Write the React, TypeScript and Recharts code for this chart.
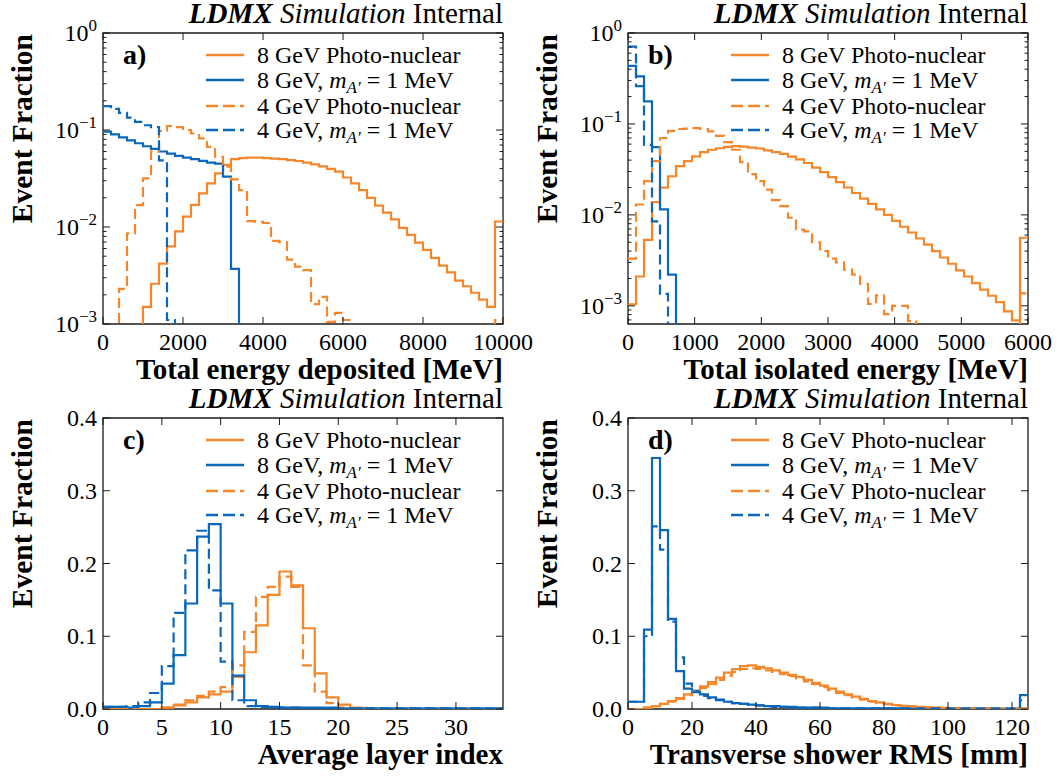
import React from 'react';
import { LineChart, Line, XAxis, YAxis, ReferenceArea, Legend } from 'recharts';

const FONT = '"Liberation Serif", "Times New Roman", Times, serif';
const ORANGE = '#f5862a';
const BLUE = '#0a67bb';
const FRAME = '#1a1a1a';

// ---------- Panel a: Total energy deposited [MeV], 50 bins over 0-10000 ----------
const aPN8 = [0, 0, 0, 0, 0, 0.0015, 0.0026, 0.0042, 0.0063, 0.009, 0.0128, 0.0169, 0.0222, 0.0282, 0.0357, 0.0436, 0.05, 0.0513, 0.0519, 0.0519, 0.0513, 0.0507, 0.0501, 0.049, 0.0479, 0.0462, 0.0442, 0.0422, 0.0398, 0.0372, 0.0324, 0.0282, 0.024, 0.02, 0.0166, 0.0141, 0.012, 0.0098, 0.0083, 0.0069, 0.0058, 0.0048, 0.004, 0.0034, 0.0028, 0.00245, 0.0021, 0.00178, 0.0015, 0.0114];
const aAp8 = [0.096, 0.09, 0.084, 0.078, 0.073, 0.068, 0.064, 0.06, 0.057, 0.054, 0.052, 0.05, 0.048, 0.046, 0.045, 0.033, 0.0037, 0, 0, 0, 0, 0, 0, 0, 0, 0, 0, 0, 0, 0, 0, 0, 0, 0, 0, 0, 0, 0, 0, 0, 0, 0, 0, 0, 0, 0, 0, 0, 0, 0];
const aPN4 = [0, 0, 0.0023, 0.0086, 0.0168, 0.0317, 0.06, 0.098, 0.11, 0.107, 0.1, 0.092, 0.082, 0.067, 0.053, 0.042, 0.031, 0.024, 0.0115, 0.0113, 0.011, 0.0072, 0.007, 0.0046, 0.0039, 0.0036, 0.0016, 0.0019, 0.00105, 0.0013, 0.0011, 0, 0, 0, 0, 0, 0, 0, 0, 0, 0, 0, 0, 0, 0, 0, 0, 0, 0, 0.0011];
const aAp4 = [0.176, 0.165, 0.15, 0.134, 0.121, 0.112, 0.107, 0.0486, 0.0011, 0, 0, 0, 0, 0, 0, 0, 0, 0, 0, 0, 0, 0, 0, 0, 0, 0, 0, 0, 0, 0, 0, 0, 0, 0, 0, 0, 0, 0, 0, 0, 0, 0, 0, 0, 0, 0, 0, 0, 0, 0];
const aXTicks = [0, 2000, 4000, 6000, 8000, 10000];

// ---------- Panel b: Total isolated energy [MeV], 50 bins over 0-6000 ----------
const bPN8 = [0.00104, 0.0021, 0.0053, 0.0138, 0.0199, 0.0266, 0.0343, 0.039, 0.044, 0.049, 0.052, 0.054, 0.056, 0.057, 0.0562, 0.055, 0.0537, 0.0513, 0.049, 0.0468, 0.0437, 0.0407, 0.0372, 0.0331, 0.0295, 0.026, 0.0229, 0.02, 0.0174, 0.0151, 0.0132, 0.0115, 0.01, 0.0086, 0.0074, 0.0064, 0.0055, 0.0047, 0.004, 0.0034, 0.0029, 0.00245, 0.0021, 0.00178, 0.00151, 0.00129, 0.0011, 0.00087, 0.00069, 0.0056];
const bAp8 = [0.435, 0.333, 0.177, 0.0555, 0.0115, 0.0022, 0, 0, 0, 0, 0, 0, 0, 0, 0, 0, 0, 0, 0, 0, 0, 0, 0, 0, 0, 0, 0, 0, 0, 0, 0, 0, 0, 0, 0, 0, 0, 0, 0, 0, 0, 0, 0, 0, 0, 0, 0, 0, 0, 0];
const bPN4 = [0.0033, 0.013, 0.0235, 0.039, 0.07, 0.084, 0.088, 0.089, 0.09, 0.088, 0.083, 0.074, 0.063, 0.052, 0.038, 0.028, 0.0235, 0.019, 0.0145, 0.0125, 0.0093, 0.0069, 0.0066, 0.005, 0.004, 0.0033, 0.003, 0.0025, 0.0022, 0.00174, 0.00105, 0.0013, 0.00081, 0.001, 0.001, 0.00068, 0, 0, 0, 0, 0, 0, 0, 0, 0, 0, 0, 0, 0, 0.00137];
const bAp4 = [0.71, 0.26, 0.059, 0.0085, 0.00135, 0, 0, 0, 0, 0, 0, 0, 0, 0, 0, 0, 0, 0, 0, 0, 0, 0, 0, 0, 0, 0, 0, 0, 0, 0, 0, 0, 0, 0, 0, 0, 0, 0, 0, 0, 0, 0, 0, 0, 0, 0, 0, 0, 0, 0];
const bXTicks = [0, 1000, 2000, 3000, 4000, 5000, 6000];

// ---------- Panel c: Average layer index, 34 bins over 0-34 ----------
const cPN8 = [0, 0, 0, 0, 0, 0.002, 0.005, 0.009, 0.016, 0.02, 0.024, 0.044, 0.078, 0.115, 0.157, 0.189, 0.17, 0.111, 0.049, 0.016, 0.006, 0.002, 0.001, 0, 0, 0, 0, 0, 0, 0, 0, 0, 0, 0];
const cAp8 = [0.003, 0.003, 0.002, 0.004, 0.009, 0.035, 0.074, 0.145, 0.237, 0.254, 0.145, 0.046, 0.012, 0.004, 0.003, 0.002, 0.002, 0.002, 0.002, 0.002, 0.001, 0.001, 0.001, 0.001, 0.001, 0.001, 0.001, 0.001, 0.001, 0.001, 0.001, 0.001, 0.001, 0.001];
const cPN4 = [0, 0, 0, 0, 0, 0.002, 0.006, 0.012, 0.018, 0.024, 0.03, 0.06, 0.106, 0.154, 0.168, 0.182, 0.168, 0.06, 0.024, 0.008, 0.002, 0.001, 0, 0, 0, 0, 0, 0, 0, 0, 0, 0, 0, 0];
const cAp4 = [0.003, 0.003, 0.004, 0.009, 0.022, 0.059, 0.132, 0.218, 0.245, 0.163, 0.065, 0.012, 0.004, 0.003, 0.002, 0.002, 0.002, 0.001, 0.001, 0.001, 0.001, 0.001, 0.001, 0.001, 0.001, 0.001, 0.001, 0.001, 0.001, 0.001, 0.001, 0.001, 0.001, 0.001];
const cXTicks = [0, 5, 10, 15, 20, 25, 30];

// ---------- Panel d: Transverse shower RMS [mm], 50 bins over 0-125 ----------
const dPN8 = [0, 0, 0.002, 0.004, 0.007, 0.011, 0.015, 0.02, 0.025, 0.031, 0.037, 0.043, 0.05, 0.055, 0.059, 0.06, 0.058, 0.056, 0.053, 0.05, 0.047, 0.044, 0.04, 0.036, 0.032, 0.028, 0.024, 0.02, 0.017, 0.014, 0.011, 0.009, 0.007, 0.0055, 0.0045, 0.0035, 0.003, 0.0025, 0.002, 0.0015, 0.0012, 0.001, 0.0008, 0.0006, 0.0005, 0.0004, 0.0003, 0.0003, 0.0002, 0.001];
const dAp8 = [0.01, 0.01, 0.109, 0.345, 0.246, 0.124, 0.052, 0.028, 0.025, 0.02, 0.016, 0.013, 0.01, 0.008, 0.007, 0.006, 0.005, 0.004, 0.004, 0.003, 0.003, 0.002, 0.002, 0.002, 0.002, 0.001, 0.001, 0.001, 0.001, 0.001, 0.001, 0.001, 0.001, 0.001, 0.001, 0.001, 0.001, 0.001, 0.001, 0.001, 0.0005, 0.0005, 0.0005, 0.0005, 0.0005, 0.0005, 0.0005, 0.0005, 0.0005, 0.019];
const dPN4 = [0, 0, 0.002, 0.004, 0.007, 0.01, 0.014, 0.019, 0.024, 0.029, 0.034, 0.04, 0.046, 0.051, 0.055, 0.056, 0.055, 0.053, 0.051, 0.048, 0.045, 0.042, 0.038, 0.034, 0.03, 0.026, 0.022, 0.019, 0.016, 0.013, 0.01, 0.008, 0.0065, 0.005, 0.004, 0.0033, 0.0027, 0.0022, 0.0018, 0.0014, 0.0011, 0.0009, 0.0007, 0.0005, 0.0004, 0.0003, 0.0003, 0.0003, 0.0003, 0.001];
const dAp4 = [0.01, 0.01, 0.1, 0.251, 0.219, 0.12, 0.071, 0.035, 0.023, 0.018, 0.015, 0.012, 0.01, 0.008, 0.007, 0.006, 0.005, 0.004, 0.003, 0.003, 0.002, 0.002, 0.002, 0.002, 0.001, 0.001, 0.001, 0.001, 0.001, 0.001, 0.001, 0.001, 0.001, 0.001, 0.001, 0.0005, 0.0005, 0.0005, 0.0005, 0.0005, 0.0005, 0.0005, 0.0005, 0.0005, 0.0005, 0.0005, 0.0005, 0.0005, 0.0005, 0.012];
const dXTicks = [0, 20, 40, 60, 80, 100, 120];

const linYTicks = [0, 0.1, 0.2, 0.3, 0.4];

const SERIES = [
  { key: 'pn8', pre: '8 GeV Photo-nuclear', math: false, color: ORANGE, dash: undefined as string | undefined },
  { key: 'ap8', pre: '8 GeV, ', math: true, color: BLUE, dash: undefined as string | undefined },
  { key: 'pn4', pre: '4 GeV Photo-nuclear', math: false, color: ORANGE, dash: '10 5' },
  { key: 'ap4', pre: '4 GeV, ', math: true, color: BLUE, dash: '10 5' },
];

// ---------- layout ----------
const CW = 560;
const CH = 388;
const PL = 103;
const PR = 503;
const PT = 33;
const PB = 324;
const LEG_ROWS = [22, 47, 73, 97];
const TICK_FS = 24;

const logTicks = (minExp: number) => {
  const t: number[] = [];
  for (let e = minExp; e < 0; e++) {
    for (let m = 1; m <= 9; m++) t.push(Number((m * Math.pow(10, e)).toPrecision(6)));
  }
  t.push(1);
  return t;
};

const PANELS = [
  { id: 'a', letter: 'a)', left: 0, top: 0, xDomain: [0, 10000], xTicks: aXTicks, log: true, yDomain: [0.001, 1], yTicks: logTicks(-3), series: [aPN8, aAp8, aPN4, aAp4], xTitle: 'Total energy deposited [MeV]' },
  { id: 'b', letter: 'b)', left: 525, top: 0, xDomain: [0, 6000], xTicks: bXTicks, log: true, yDomain: [Math.pow(10, -3.2), 1], yTicks: logTicks(-4).filter((v) => v >= Math.pow(10, -3.2)), series: [bPN8, bAp8, bPN4, bAp4], xTitle: 'Total isolated energy [MeV]' },
  { id: 'c', letter: 'c)', left: 0, top: 385, xDomain: [0, 34], xTicks: cXTicks, log: false, yDomain: [0, 0.4], yTicks: linYTicks, series: [cPN8, cAp8, cPN4, cAp4], xTitle: 'Average layer index' },
  { id: 'd', letter: 'd)', left: 525, top: 385, xDomain: [0, 125], xTicks: dXTicks, log: false, yDomain: [0, 0.4], yTicks: linYTicks, series: [dPN8, dAp8, dPN4, dAp4], xTitle: 'Transverse shower RMS [mm]' },
];

const FLOOR = 1e-7;

const buildRows = (lo: number, hi: number, series: number[][], log: boolean) => {
  const n = series[0].length;
  const w = (hi - lo) / n;
  const rows: any[] = [];
  for (let i = 0; i <= n; i++) {
    const row: any = { x: lo + i * w };
    SERIES.forEach((s, k) => {
      const v = series[k][Math.min(i, n - 1)];
      row[s.key] = log && v <= 0 ? FLOOR : v;
    });
    rows.push(row);
  }
  return rows;
};

const makeYTick = (log: boolean) => (props: any) => {
  const { y, payload } = props;
  const v = payload.value as number;
  let major = true;
  let exp = 0;
  if (log) {
    const l = Math.log10(v);
    exp = Math.round(l);
    major = Math.abs(l - exp) < 1e-6;
  }
  const len = major ? 7 : 3.5;
  const expStr = exp < 0 ? '\u2212' + Math.abs(exp) : String(exp);
  return (
    <g>
      <line x1={PL} x2={PL + len} y1={y} y2={y} stroke={FRAME} strokeWidth={1} />
      <line x1={PR - len} x2={PR} y1={y} y2={y} stroke={FRAME} strokeWidth={1} />
      {major &&
        (log ? (
          <text x={PL - 6} y={y + 8} textAnchor="end" fontFamily={FONT} fontSize={TICK_FS} fill="#000">
            10
            <tspan dy={-10} fontSize={17}>
              {expStr}
            </tspan>
          </text>
        ) : (
          <text x={PL - 6} y={y + 8} textAnchor="end" fontFamily={FONT} fontSize={TICK_FS} fill="#000">
            {v.toFixed(1)}
          </text>
        ))}
    </g>
  );
};

const makeXTick = () => (props: any) => {
  const { x, payload } = props;
  return (
    <g>
      <line x1={x} x2={x} y1={PB} y2={PB - 7} stroke={FRAME} strokeWidth={1} />
      <line x1={x} x2={x} y1={PT} y2={PT + 7} stroke={FRAME} strokeWidth={1} />
      <text x={x} y={PB + 26} textAnchor="middle" fontFamily={FONT} fontSize={TICK_FS} fill="#000">
        {String(payload.value)}
      </text>
    </g>
  );
};

const LegendBox = () => (
  <svg width={PR} height={112} style={{ overflow: 'visible', display: 'block' }}>
    {SERIES.map((s, i) => {
      const cy = LEG_ROWS[i];
      return (
        <g key={s.key}>
          <line x1={PL + 103} x2={PL + 141} y1={cy} y2={cy} stroke={s.color} strokeWidth={2.4} strokeDasharray={s.dash ? '12 5' : undefined} />
          <text x={PL + 154} y={cy + 8} fontFamily={FONT} fontSize={24} fill="#000">
            {s.pre}
            {s.math && <tspan fontStyle="italic">m</tspan>}
            {s.math && (
              <tspan fontStyle="italic" fontSize={17} dy={5}>
                {'A\u2032'}
              </tspan>
            )}
            {s.math && <tspan dy={-5}>{' = 1 MeV'}</tspan>}
          </text>
        </g>
      );
    })}
  </svg>
);

const Panel = ({ p }: { p: any }) => {
  const rows = buildRows(p.xDomain[0], p.xDomain[1], p.series, p.log);
  return (
    <div style={{ position: 'absolute', left: p.left, top: p.top, width: CW, height: CH }}>
      <LineChart width={CW} height={CH} data={rows} margin={{ top: PT, right: CW - PR, bottom: 0, left: 0 }}>
        <XAxis
          dataKey="x"
          type="number"
          domain={p.xDomain}
          ticks={p.xTicks}
          interval={0}
          allowDataOverflow
          height={CH - PB}
          axisLine={false}
          tickLine={false}
          tick={makeXTick()}
        />
        <YAxis
          type="number"
          scale={p.log ? 'log' : 'linear'}
          domain={p.yDomain}
          ticks={p.yTicks}
          interval={0}
          allowDataOverflow
          width={PL}
          axisLine={false}
          tickLine={false}
          tick={makeYTick(p.log)}
        />
        {SERIES.map((s) => (
          <Line
            key={s.key}
            type="stepAfter"
            dataKey={s.key}
            stroke={s.color}
            strokeWidth={2.2}
            strokeDasharray={s.dash}
            dot={false}
            activeDot={false}
            isAnimationActive={false}
          />
        ))}
        <ReferenceArea
          x1={p.xDomain[0]}
          x2={p.xDomain[1]}
          y1={p.yDomain[0]}
          y2={p.yDomain[1]}
          fill="none"
          fillOpacity={0}
          stroke={FRAME}
          strokeWidth={1.3}
          ifOverflow="visible"
        />
        <Legend
          layout="vertical"
          align="center"
          verticalAlign="middle"
          content={<LegendBox />}
          wrapperStyle={{ position: 'absolute', left: 0, top: PT, width: PR, height: 112 }}
        />
      </LineChart>
    </div>
  );
};

export default function App() {
  return (
    <div style={{ position: 'absolute', left: 0, top: 0, width: 1059, height: 776, background: '#fff', overflow: 'hidden' }}>
      {PANELS.map((p) => (
        <Panel key={p.id} p={p} />
      ))}
      <svg width={1059} height={776} style={{ position: 'absolute', left: 0, top: 0, pointerEvents: 'none' }}>
        {PANELS.map((p) => (
          <g key={p.id} transform={`translate(${p.left},${p.top})`} fontFamily={FONT} fill="#000">
            <text x={PR} y={PT - 10} textAnchor="end" fontSize={29}>
              <tspan fontWeight="bold" fontStyle="italic">LDMX</tspan>
              <tspan fontStyle="italic">{' Simulation'}</tspan>
              <tspan>{' Internal'}</tspan>
            </text>
            <text x={PR} y={PB + 55} textAnchor="end" fontWeight="bold" fontSize={29}>
              {p.xTitle}
            </text>
            <text transform={`translate(${PL - 71},${PT + 1}) rotate(-90)`} textAnchor="end" fontWeight="bold" fontSize={29.5}>
              Event Fraction
            </text>
            <text x={PL + 20} y={PT + 31} fontWeight="bold" fontSize={28}>
              {p.letter}
            </text>
          </g>
        ))}
      </svg>
    </div>
  );
}
